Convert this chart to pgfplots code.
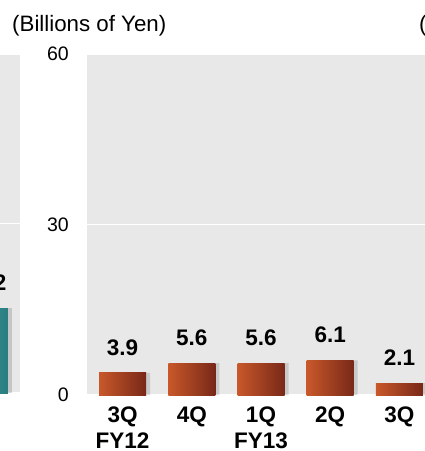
\documentclass[border=0pt]{standalone}
\usepackage{fontspec}
\setmainfont{Liberation Sans}
\usepackage{pgfplots}
\pgfplotsset{compat=1.18}
\definecolor{bgray}{HTML}{E8E8E8}
\definecolor{barL}{HTML}{C8582A}
\definecolor{barR}{HTML}{782818}
\definecolor{tealL}{HTML}{3A9C9C}
\definecolor{tealR}{HTML}{2A7E80}
\begin{document}
\begin{tikzpicture}
\path[use as bounding box] (0,0) rectangle (425pt,451pt);
\clip (0,0) rectangle (425pt,451pt);
% left (partial) panel
\begin{axis}[
  at={(-200pt,58pt)}, anchor=south west,
  scale only axis, width=220pt, height=339pt,
  xmin=-200, xmax=20, ymin=0, ymax=60,
  ytick={0,30,60}, yticklabels={}, xtick=\empty,
  ymajorgrids, grid style={white, line width=1.5pt},
  axis line style={draw=none}, major tick length=0pt,
  axis background/.style={fill=bgray},
  ybar, bar width=47pt,
  point meta=explicit symbolic,
  every node near coord/.append style={font=\fontsize{22.5}{26}\selectfont\bfseries, inner sep=0pt, anchor=south, yshift=17pt},
]
\addplot[draw=none, fill=black, opacity=0.15, bar shift=4pt] coordinates {(-15.5,15.0)};
\addplot[draw=none, left color=tealL, right color=tealR, bar shift=0pt, nodes near coords] coordinates {(-15.5,15.0) [15.2]};
\end{axis}
% middle panel
\begin{axis}[
  at={(87pt,56pt)}, anchor=south west,
  scale only axis, width=373pt, height=341pt,
  xmin=-0.513, xmax=4.874, ymin=0, ymax=60,
  ytick={0,30,60},
  xtick={0,1,2,3,4},
  xticklabels={3Q\\FY12, 4Q, 1Q\\FY13, 2Q, 3Q},
  ymajorgrids, grid style={white, line width=1.5pt},
  axis line style={draw=none}, major tick length=0pt,
  axis background/.style={fill=bgray},
  /pgf/number format/assume math mode=true,
  yticklabel style={font=\fontsize{19.5}{22}\selectfont, anchor=east, inner sep=0pt, xshift=-18pt},
  xticklabel style={font=\fontsize{22.5}{26}\selectfont\bfseries, anchor=north, inner sep=0pt, yshift=-12pt, align=center},
  ybar, bar width=47pt,
  point meta=explicit symbolic,
  every node near coord/.append style={font=\fontsize{22.5}{26}\selectfont\bfseries, inner sep=0pt, anchor=south, yshift=17pt},
  shadowbar/.style={draw=none, fill=black, opacity=0.13, bar shift=4pt},
  mainbar/.style={draw=none, left color=barL, right color=barR, bar shift=0pt, nodes near coords},
]
\addplot[shadowbar] coordinates {(0,3.9) (1,5.6) (2,5.6) (3,6.1) (4,2.1)};
\addplot[mainbar] coordinates {(0,3.9) [3.9]};
\addplot[mainbar] coordinates {(1,5.6) [5.6]};
\addplot[mainbar] coordinates {(2,5.6) [5.6]};
\addplot[mainbar] coordinates {(3,6.1) [6.1]};
\addplot[mainbar] coordinates {(4,2.1) [2.1]};
\end{axis}
\node[anchor=base west, inner sep=0pt, font=\fontsize{22.3}{26}\selectfont] at (12pt,419.3pt) {(Billions of Yen)};
\node[anchor=base west, inner sep=0pt, font=\fontsize{22.3}{26}\selectfont] at (419pt,419.3pt) {(Billions of Yen)};
\end{tikzpicture}
\end{document}
